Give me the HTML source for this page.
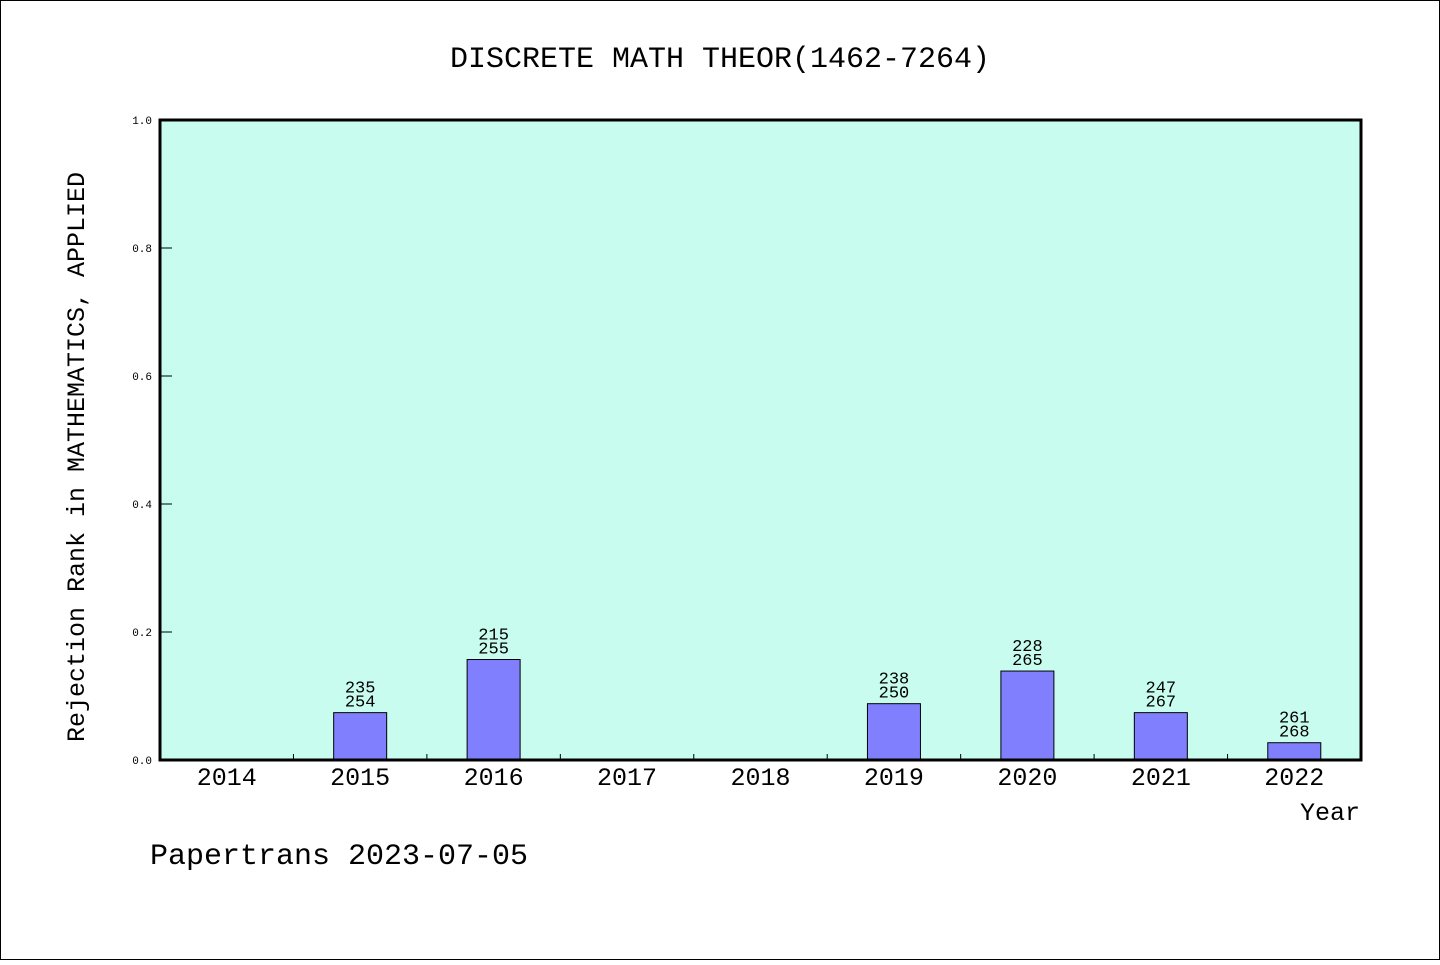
<!DOCTYPE html>
<html><head><meta charset="utf-8"><style>
body{margin:0;background:#fff}
svg text{font-family:"Liberation Mono",monospace;fill:#000}
</style></head><body>
<svg width="1440" height="960" xmlns="http://www.w3.org/2000/svg">
<rect x="0.5" y="0.5" width="1439" height="959" fill="#fff" stroke="#000"/>
<text x="720" y="67" text-anchor="middle" font-size="30">DISCRETE MATH THEOR(1462-7264)</text>
<rect x="160" y="120" width="1201" height="640" fill="#c8fcee"/>
<g id="marks"></g>
<rect x="160" y="120" width="1201" height="640" fill="none" stroke="#000" stroke-width="3"/>
<text transform="translate(84,457) rotate(-90)" text-anchor="middle" font-size="25">Rejection Rank in MATHEMATICS, APPLIED</text>
<text x="1360" y="820" text-anchor="end" font-size="25">Year</text>
<text x="150" y="864" font-size="30">Papertrans 2023-07-05</text>
</svg>
<script>
const years=['2014','2015','2016','2017','2018','2019','2020','2021','2022'];
const values=[0,0.074,0.157,0,0,0.088,0.139,0.074,0.027];
const labelTop=['','235','215','','','238','228','247','261'];
const labelBottom=['','254','255','','','250','265','267','268'];
const yTicks=[0,0.2,0.4,0.6,0.8,1.0];
const X0=160,W=1201,Y0=760,H=640;
const bw=W/years.length;
const xs=i=>X0+bw*(i+0.5);
const ys=v=>Y0-v*H;
const g=document.getElementById('marks');
const NS='http://www.w3.org/2000/svg';
function mk(t,a,txt){const e=document.createElementNS(NS,t);for(const k in a)e.setAttribute(k,a[k]);if(txt!==undefined)e.textContent=txt;g.appendChild(e);return e;}
yTicks.forEach(v=>{
  const l=mk('line',{x1:X0,x2:X0+12,y1:ys(v),y2:ys(v),stroke:'#000'});
  
  
  const t=mk('text',{x:X0-8,y:ys(v)+4,'text-anchor':'end','font-size':11},v.toFixed(1));
  
  
});
years.forEach((y,i)=>{
  if(i>0){const l=mk('line',{x1:X0+bw*i,x2:X0+bw*i,y1:Y0,y2:Y0-6,stroke:'#000'});
  
  }
  const t=mk('text',{x:xs(i),y:Y0+25,'text-anchor':'middle','font-size':25},y);
  
  
  if(values[i]>0){
    const r=mk('rect',{x:xs(i)-26.5,y:ys(values[i]),width:53,height:Y0-ys(values[i]),fill:'#8080ff',stroke:'#000','stroke-width':1});
    
    
    const a=mk('text',{x:xs(i),y:ys(values[i])-20,'text-anchor':'middle','font-size':17},labelTop[i]);
    
    
    const b=mk('text',{x:xs(i),y:ys(values[i])-6,'text-anchor':'middle','font-size':17},labelBottom[i]);
    
    
  }
});
</script>
</body></html>
